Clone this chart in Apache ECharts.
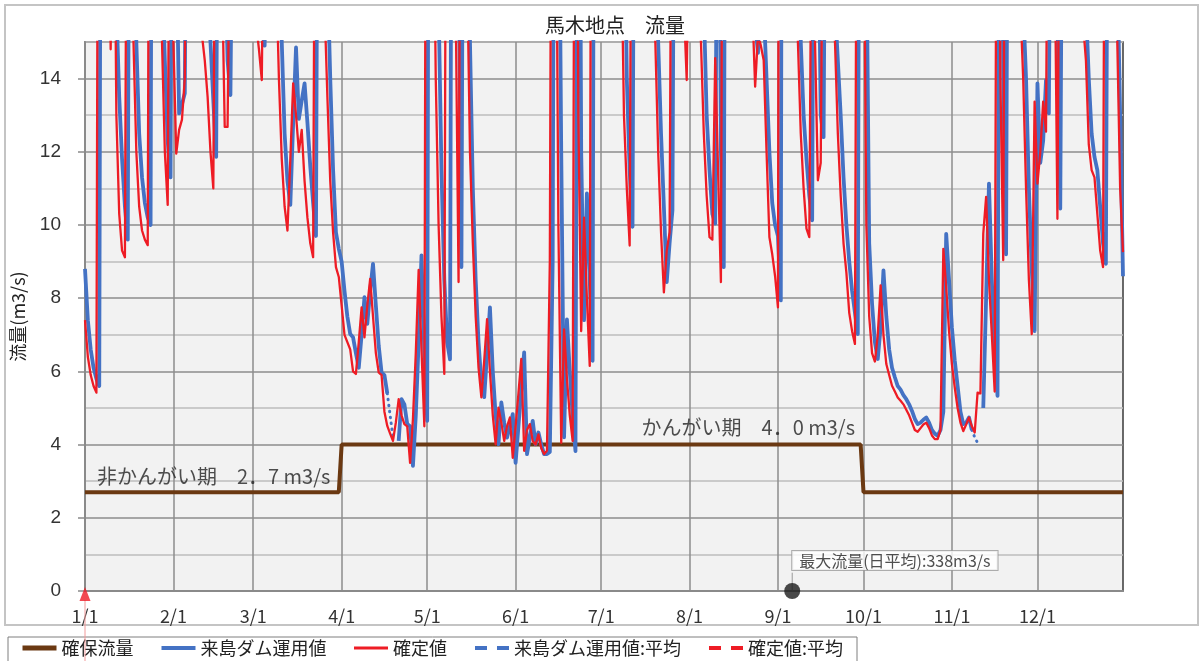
<!DOCTYPE html>
<html><head><meta charset="utf-8">
<script src="https://cdn.jsdelivr.net/npm/echarts@6/dist/echarts.min.js"></script>
<style>html,body{margin:0;padding:0;background:#fff}#c{width:1203px;height:661px}</style>
</head><body><div id="c"></div>
<script>
// ---- data ----
const monthDays = [31,28,31,30,31,30,31,31,30,31,30,31];
const monthLabels = ['1/1','2/1','3/1','4/1','5/1','6/1','7/1','8/1','9/1','10/1','11/1','12/1'];
const seriesNames = ['確保流量','来島ダム運用値','確定値','来島ダム運用値:平均','確定値:平均'];

// 来島ダム運用値 (daily, m3/s) — values above 15 are off the chart
const kurushimaDam = [
 8.8,7.4,6.6,6.1,5.8,5.6,38,45,30,24,
 19,16,13.5,11.8,10.5,9.6,32,21,15,12.5,
 11.3,10.6,10.2,10.0,40,28,20,17,14.5,12.3,
 11.3,30,18,13.05,13.3,13.6,26,35,30,24,
 20,18,17,16.5,15,13.4,11.86,28,22,18,
 14.5,13.55,22,30,26,22,20,19,18,17.5,
 17,16,15.5,14.9,24,30,25,20,17,15,
 12.5,11.2,10.55,12.8,14.85,12.9,13.4,13.87,12.8,11.6,
 10.6,9.7,30,26,20,17,14,11.5,9.8,9.35,
 9.0,8.2,7.5,7.02,6.93,6.5,6.1,7.0,8.03,7.3,
 8.2,8.94,7.8,6.7,5.97,5.9,5.4,null,null,null,
 4.1,5.24,5.1,4.56,4.5,3.42,4.8,6.8,9.17,6.5,
 4.65,40,30,22,16,11.5,8.5,6.8,6.33,35,
 25,18,8.85,30,22,15,11,8.5,6.8,5.7,
 5.3,6.5,7.75,6.0,4.8,4.01,5.15,4.6,4.19,4.5,
 4.83,3.5,4.5,5.5,6.52,3.74,4.2,4.65,4.01,4.33,
 4.0,3.74,3.74,3.8,9,35,22,12,4.2,7.42,
 6.0,4.8,3.82,30,12,7.4,10.86,8.5,6.29,40,
 35,28,25,22,20,19,20,24,22,20,
 14,11.5,9.95,30,25,22,20,19,18,17.5,
 17,15,12.5,10.5,8.44,9.5,10.4,28,24,20,
 18,17,19,22,20,18,17,16,13,11.5,
 10.3,10.04,25,12,8.85,35,30,25,22,20,
 19,18,17,16.5,16,15.5,14.7,18,16,14,
 12,10.6,10.0,9.7,7.94,50,120,250,338,200,
 100,15,13,11.8,10.8,10.13,30,20,13,12.4,
 25,22,19,16,14.5,13,11.3,10,9.0,8.2,
 7.6,7.02,35,30,18,9.5,7.85,6.8,6.34,7.2,
 8.76,7.5,6.6,6.1,5.84,5.6,5.5,5.35,5.24,5.1,
 4.92,4.7,4.56,4.6,4.68,4.74,4.6,4.4,4.3,4.24,
 4.4,4.9,9.76,8.5,7.2,6.3,5.6,4.9,4.56,4.6,
 4.74,4.4,null,null,null,5.0,8.0,11.13,8.5,6.5,
 5.33,30,14,9.2,30,25,22,20,18,16,
 14,11,8.8,7.1,13.87,11.7,12.3,13.96,13.05,25,
 20,16,10.45,25,22,20,19,18,17.5,17,
 16.5,16,14,12.5,11.86,11.5,10.5,9.5,8.94,28,
 24,20,17,13,8.6
];

// 確定値 (daily, m3/s)
const kakuteiValue = [
 7.4,6.4,5.9,5.6,5.42,35,40,28,20,14.8,
 22,13,10.3,9.3,9.12,28,20,15,12,10.5,
 9.85,9.6,9.45,36,26,20,17,15,12,10.55,
 26,15,11.95,12.6,12.88,14,25,32,26,21,
 18,15.2,14.5,13.5,12,11.0,25,20,17,12.68,
 12.68,20,28,24,21,19,18,17,16.5,16,
 15.5,14.8,13.96,22,28,24,20,17,14,11.8,
 10.5,9.85,11.8,13.87,13.0,12.0,12.6,11.2,10.2,9.5,
 9.12,28,24,19,16,13.5,11.2,9.8,8.85,8.58,
 7.8,7.0,6.8,6.6,6.0,5.93,6.8,7.75,6.93,7.8,
 8.53,7.5,6.5,5.97,5.9,4.9,4.51,4.3,4.1,4.6,
 5.24,4.8,4.56,4.5,3.5,4.7,6.5,8.77,6.6,4.5,
 38,30,21,14,10,7.5,5.93,32,24,19,
 16,8.44,28,22,17,12,9.5,7.5,6.1,5.29,
 6.3,7.43,6.0,4.8,4.01,5.01,4.6,4.1,4.5,4.74,
 3.64,4.5,5.4,6.34,3.83,4.4,4.56,4.1,4.0,4.28,
 3.9,3.74,3.83,9,32,22,10,4.05,7.15,5.8,
 4.8,4.1,30,13,7.1,10.2,8,6.15,38,32,
 27,24,22,20,19,21,24,21,18,13,
 11,9.44,28,24,21,19,18,17,16.5,16,
 15,12,9.8,8.16,9.3,9.8,26,22,19,17,
 16,13.96,20,19,17,16,15,12.5,10.8,9.67,
 9.6,14.56,11.5,8.44,32,28,24,21,19,18,
 17,16.5,16,15.5,16,13.78,15.2,14.9,14.5,12,
 9.67,9.2,8.6,7.75,50,110,200,338,250,100,
 15,12.5,11,9.9,9.67,22,15,11.22,11.7,22,
 20,18,16,15,12.5,10.8,9.5,8.7,7.6,7.1,
 6.75,30,26,20,10,7.5,6.5,6.27,7.0,8.35,
 7.0,6.2,5.9,5.61,5.45,5.29,5.2,5.1,4.95,4.8,
 4.6,4.4,4.35,4.45,4.55,4.6,4.45,4.25,4.15,4.15,
 4.4,9.35,8.3,7.1,6.2,5.56,5.0,4.6,4.37,4.55,
 4.74,4.5,4.33,5.42,5.4,9.76,10.77,8.5,7,5.45,
 28,14,9.04,30,25,22,20,18,16,14,
 11,8.5,7.02,13.37,11.13,12,13.37,12.55,25,21,
 18,10.17,24,21,19,18,17,16.5,16,15.8,
 15.5,14.5,12.2,11.5,11.3,10.3,9.3,8.85,30,25,
 21,18,15,11,9.26
];

// 来島ダム運用値 gaps bridged with a dotted line: [dayIndex, value]
const damBridgeApr = [[106,5.4],[107,4.8],[108,4.2]];
const damBridgeNov = [[311,4.4],[312,4.2],[313,4.05]];

// 確保流量 periods (start date label, value)
const kakuhoStart = ['1/1','4/1','10/1'];
const kakuhoValue = [2.7, 4.0, 2.7];

// annotations
const noteTexts = ['非かんがい期　2．7 m3/s', 'かんがい期　4．0 m3/s'];
const notePoints = [[4, 3.12], [195, 4.47]];
const maxFlowDay = 248;
const maxFlowValue = 338;
const startMarkerDay = 0;

// ---- build helpers ----
const dayLabels = [];
monthDays.forEach((n, m) => { for (let d = 1; d <= n; d++) dayLabels.push((m + 1) + '/' + d); });
const kakuho = dayLabels.map((lab, i) => {
  let v = kakuhoValue[0];
  kakuhoStart.forEach((s, k) => { if (i >= dayLabels.indexOf(s)) v = kakuhoValue[k]; });
  return v;
});
const isMonthStart = (i, v) => monthLabels.includes(v);

const BLUE = '#4472c4', RED = '#ee1c25', BROWN = '#6b3912';
const JP = "'Noto Sans CJK JP', sans-serif";
const legendWidths = [5, 4, 3, 4, 4];
const legendTypes = ['solid', 'solid', 'solid', [12, 10], [12, 10]];

const chart = echarts.init(document.getElementById('c'), null, {renderer: 'canvas'});
chart.setOption({
  animation: false,
  textStyle: {fontFamily: JP},
  title: {text: '馬木地点　流量', left: 540, top: 10,
    textStyle: {fontFamily: JP, fontSize: 20, fontWeight: 'normal', color: '#222'}},
  grid: {left: 85, right: 80, top: 42, bottom: 70, show: true,
    backgroundColor: '#f2f2f2', borderColor: '#3a3a3a', borderWidth: 1.5},
  legend: {
    data: seriesNames.map((n, i) => ({name: n, itemStyle: {opacity: 0},
      lineStyle: {width: legendWidths[i], type: legendTypes[i], dashOffset: 0, cap: 'butt'}})),
    left: 8, top: 637, orient: 'horizontal',
    padding: [2, 14, 10, 12], itemGap: 26, itemWidth: 34, itemHeight: 16,
    borderColor: '#7f7f7f', borderWidth: 1,
    textStyle: {fontFamily: JP, fontSize: 18, color: '#222'}
  },
  xAxis: {
    type: 'category', data: dayLabels, boundaryGap: false,
    axisLine: {lineStyle: {color: '#8a8a8a', width: 2}},
    axisTick: {show: false},
    axisLabel: {interval: isMonthStart, color: '#333', fontSize: 18, margin: 16, fontFamily: JP},
    splitLine: {show: true, interval: isMonthStart, lineStyle: {color: '#8c8c8c', width: 1.5}}
  },
  yAxis: [{
    type: 'value', min: 0, max: 15, interval: 2,
    name: '流量(m3/s)', nameLocation: 'middle', nameGap: 58, nameRotate: 90,
    nameTextStyle: {fontFamily: JP, fontSize: 18, color: '#222'},
    axisLine: {show: true, lineStyle: {color: '#8a8a8a', width: 2}},
    axisTick: {show: true, length: 7, lineStyle: {color: '#8a8a8a', width: 1.5}},
    axisLabel: {showMaxLabel: false, color: '#333', fontSize: 19, margin: 24, fontFamily: "'Liberation Sans', Arial, sans-serif"},
    splitLine: {show: true, lineStyle: {color: '#8c8c8c', width: 1.5}}
  }, {
    type: 'value', min: 0, max: 15, interval: 1, position: 'left',
    axisLine: {show: false}, axisTick: {show: false}, axisLabel: {show: false},
    splitLine: {show: true, lineStyle: {color: ['rgba(0,0,0,0)', '#bdbdbd'], width: 1.5}}
  }],
  series: [
    {name: '確保流量', type: 'line', data: kakuho, symbol: 'none', z: 2,
      lineStyle: {color: BROWN, width: 4}, itemStyle: {color: BROWN}},
    {name: '来島ダム運用値', type: 'line', data: kurushimaDam, symbol: 'none', z: 3,
      connectNulls: false, lineStyle: {color: BLUE, width: 3.8, join: 'round'}, itemStyle: {color: BLUE}},
    {name: 'bridgeA', type: 'line', data: damBridgeApr, symbol: 'none', z: 3,
      lineStyle: {color: BLUE, width: 3, type: [0.5, 5.5], cap: 'round'}},
    {name: 'bridgeN', type: 'line', data: damBridgeNov, symbol: 'none', z: 3,
      lineStyle: {color: BLUE, width: 3, type: [0.5, 5.5], cap: 'round'}},
    {name: '確定値', type: 'line', data: kakuteiValue, symbol: 'none', z: 4,
      lineStyle: {color: RED, width: 2.3, join: 'round'}, itemStyle: {color: RED}},
    {name: '来島ダム運用値:平均', type: 'line', data: [], symbol: 'none',
      lineStyle: {color: BLUE, width: 4, type: [12, 10]}, itemStyle: {color: BLUE}},
    {name: '確定値:平均', type: 'line', data: [], symbol: 'none',
      lineStyle: {color: RED, width: 4, type: [12, 10]}, itemStyle: {color: RED}},
    {name: 'notes', type: 'scatter', data: notePoints, symbolSize: 1, silent: true, z: 6,
      itemStyle: {color: 'rgba(0,0,0,0)'},
      label: {show: true, position: 'right', distance: 0, formatter: p => noteTexts[p.dataIndex],
        fontFamily: JP, fontSize: 20, color: '#222'}},
    {name: 'maxLink', type: 'line', data: [[maxFlowDay, 0], [maxFlowDay, 0.5]], symbol: 'none', z: 7,
      clip: false, lineStyle: {color: '#9a9a9a', width: 1}},
    {name: 'maxFlow', type: 'scatter', data: [[maxFlowDay, 0]], symbol: 'circle', symbolSize: 16,
      clip: false, z: 8, itemStyle: {color: '#1c1c1c'},
      label: {show: true, position: [8, -32], formatter: '最大流量(日平均):' + maxFlowValue + 'm3/s',
        backgroundColor: '#fff', borderColor: '#9a9a9a', borderWidth: 1, padding: [2, 7, 1, 7],
        fontFamily: JP, fontSize: 16, color: '#222'}},
    {name: 'startLine', type: 'line', data: [[startMarkerDay, -0.25], [startMarkerDay, -2.2]], symbol: 'none',
      clip: false, z: 7, lineStyle: {color: '#f29a9a', width: 1}},
    {name: 'startMark', type: 'scatter', data: [[startMarkerDay, 0]], symbol: 'triangle',
      symbolSize: [11, 14], symbolOffset: [0, 3], clip: false, z: 8, itemStyle: {color: RED}}
  ],
  graphic: [{type: 'rect', shape: {x: 5, y: 5, width: 1193, height: 620}, silent: true,
    style: {fill: 'none', stroke: '#c4c4c4', lineWidth: 2}, z: -1}]
});
</script></body></html>
